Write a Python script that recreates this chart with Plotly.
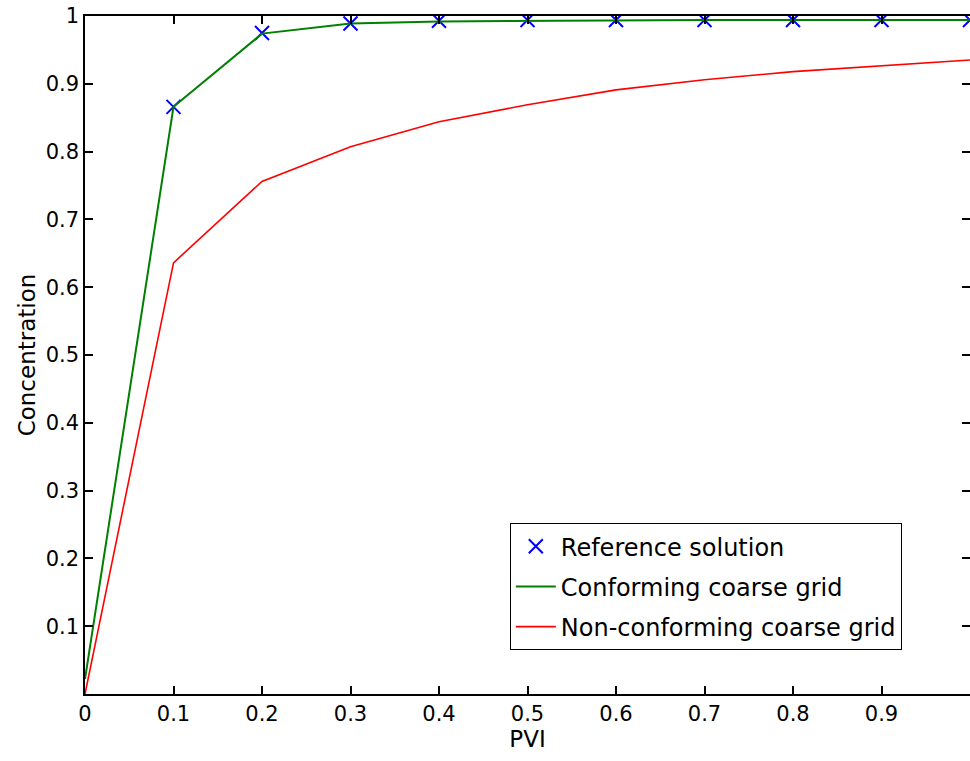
import plotly.graph_objects as go

pvi = [0.0, 0.1, 0.2, 0.3, 0.4, 0.5, 0.6, 0.7, 0.8, 0.9, 1.0]
ref_x = [0.1, 0.2, 0.3, 0.4, 0.5, 0.6, 0.7, 0.8, 0.9, 1.0]
ref_y = [0.866, 0.975, 0.989, 0.993, 0.994, 0.994, 0.994, 0.994, 0.994, 0.994]
conforming = [0.022, 0.866, 0.974, 0.989, 0.992, 0.993, 0.994, 0.994, 0.994, 0.994, 0.994]
nonconforming = [0.0, 0.636, 0.756, 0.807, 0.844, 0.869, 0.891, 0.906, 0.918, 0.927, 0.935]

xticks = [0, 0.1, 0.2, 0.3, 0.4, 0.5, 0.6, 0.7, 0.8, 0.9, 1]
xticktext = ["0", "0.1", "0.2", "0.3", "0.4", "0.5", "0.6", "0.7", "0.8", "0.9", "1"]
yticks = [0.1, 0.2, 0.3, 0.4, 0.5, 0.6, 0.7, 0.8, 0.9, 1]
yticktext = ["0.1", "0.2", "0.3", "0.4", "0.5", "0.6", "0.7", "0.8", "0.9", "1"]

FONT = "DejaVu Sans"

fig = go.Figure()
fig.add_trace(go.Scatter(x=ref_x, y=ref_y, mode="markers", name="Reference solution",
                         legendgroup="a",
                         marker=dict(symbol="x-thin-open", size=14, color="#0000FF",
                                     line=dict(color="#0000FF", width=2))))
fig.add_trace(go.Scatter(x=pvi, y=conforming, mode="lines", name="Conforming coarse grid",
                         legendgroup="b",
                         line=dict(color="#008000", width=2)))
fig.add_trace(go.Scatter(x=pvi, y=nonconforming, mode="lines", name="Non-conforming coarse grid",
                         legendgroup="c",
                         line=dict(color="#FF0000", width=1.6)))

axis_common = dict(showgrid=False, zeroline=False, showline=True, linecolor="black",
                   linewidth=1.5, mirror="allticks", ticks="inside", ticklen=8,
                   tickwidth=1.5, tickcolor="black", automargin=False,
                   tickfont=dict(family=FONT, size=21, color="black"))

fig.update_xaxes(range=[0, 1], tickvals=xticks, ticktext=xticktext,
                 title=dict(text="PVI", standoff=2,
                            font=dict(family=FONT, size=23, color="black")),
                 **axis_common)
fig.update_yaxes(range=[0, 1], tickvals=yticks, ticktext=yticktext,
                 title=dict(text="Concentration", standoff=4,
                            font=dict(family=FONT, size=23, color="black")),
                 **axis_common)

fig.update_layout(
    width=970, height=761,
    margin=dict(l=85, r=0, t=16, b=67),
    plot_bgcolor="white", paper_bgcolor="white",
    showlegend=True,
    legend=dict(x=0.48, y=0.252, xanchor="left", yanchor="top",
                bgcolor="white", bordercolor="black", borderwidth=1,
                tracegroupgap=6, traceorder="grouped", itemwidth=40,
                font=dict(family=FONT, size=24, color="black")),
)

fig.write_html("out.html",
               config={"displayModeBar": False},
               post_script="document.body.style.margin='0';document.body.style.overflow='hidden';")
